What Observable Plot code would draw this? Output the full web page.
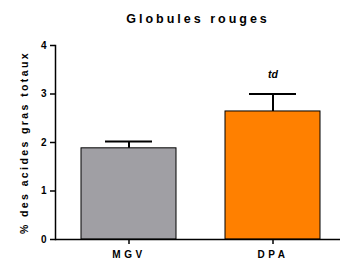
<!DOCTYPE html>
<html>
<head>
<meta charset="utf-8">
<script src="https://cdn.jsdelivr.net/npm/d3@7"></script>
<script src="https://cdn.jsdelivr.net/npm/@observablehq/plot@0.6"></script>
<style>
  html, body { margin: 0; padding: 0; background: #fff; }
  svg text { font-weight: bold; }
  [aria-label="y-axis label"] text { letter-spacing: 2.4px; font-size: 10.5px; }
  [aria-label="x-axis tick label"] text { letter-spacing: 3.6px; font-size: 10px; }
  [aria-label="y-axis tick label"] text { font-size: 10px; }
  .title text { letter-spacing: 3px; font-size: 12.5px; }
  .annot text { font-style: italic; font-size: 10.5px; }
</style>
</head>
<body>
<div id="chart"></div>
<script>
const categories = ["MGV", "DPA"];
const means = [1.88, 2.64];
const errors = [0.14, 0.36];
const colors = ["#a09fa4", "#ff8000"];
const annotations = ["", "td"];
const yTicks = [0, 1, 2, 3, 4];
const titleText = "Globules rouges";
const yLabel = "% des acides gras totaux";

const data = categories.map((c, i) => ({
  cat: c, mean: means[i], err: errors[i], top: means[i] + errors[i],
  color: colors[i], note: annotations[i]
}));

const chart = Plot.plot({
  width: 341,
  height: 259,
  marginTop: 45,
  marginBottom: 20,
  marginLeft: 55,
  marginRight: 1,
  style: { fontFamily: "'Liberation Sans', Arial, sans-serif", fontSize: "10px", color: "#000" },
  x: { domain: categories, paddingInner: 0.338, paddingOuter: 0.152, align: 0.57, label: null },
  y: { domain: [0, 4], label: null },
  marks: [
    Plot.barY(data, { x: "cat", y: "mean", fill: "color", stroke: "#000", strokeWidth: 1 }),
    Plot.ruleX(data, { x: "cat", y1: "mean", y2: "top", stroke: "#000", strokeWidth: 2 }),
    Plot.tickY(data, { x: "cat", y: "top", stroke: "#000", strokeWidth: 2, insetLeft: 24, insetRight: 24 }),
    Plot.text(data.filter(d => d.note), { x: "cat", y: "top", text: "note", dy: -19, className: "annot", fill: "#000" }),
    Plot.ruleY([0], { stroke: "#000", strokeWidth: 1.5 }),
    Plot.frame({ anchor: "left", stroke: "#000", strokeWidth: 1.5 }),
    Plot.axisY({ ticks: yTicks, tickSize: 5, tickPadding: 4, tickFormat: d => String(d), stroke: "#000", strokeWidth: 1.5,
      label: yLabel, labelAnchor: "center", labelArrow: "none", labelOffset: 35 }),
    Plot.axisX({ tickSize: 5, tickPadding: 6, stroke: "#000", strokeWidth: 1.5, label: null }),
    Plot.text([titleText], { frameAnchor: "top", dy: -31, className: "title", fill: "#000" })
  ]
});
document.getElementById("chart").appendChild(chart);
</script>
</body>
</html>
